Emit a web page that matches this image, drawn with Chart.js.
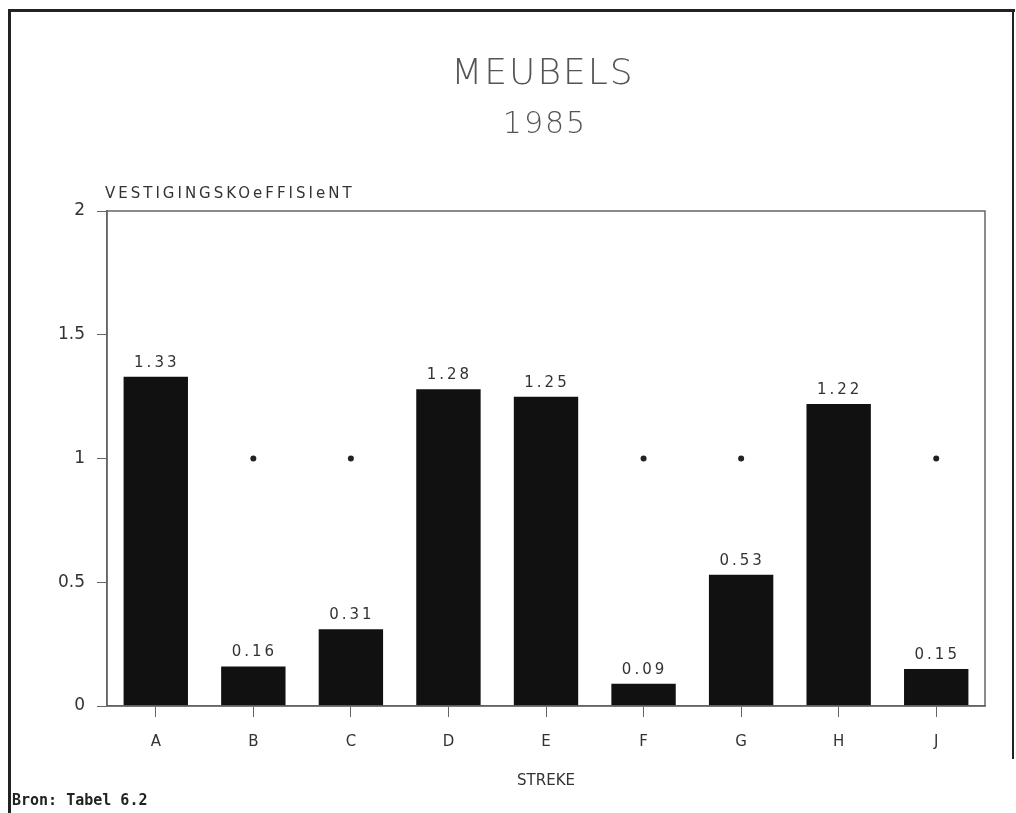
<!DOCTYPE html>
<html>
<head>
<meta charset="utf-8">
<script src="https://cdn.jsdelivr.net/npm/chart.js@4"></script>
<style>
  html, body { margin: 0; padding: 0; background: #fff; }
  #wrap { position: relative; width: 1016px; height: 813px; overflow: hidden; }
  canvas { position: absolute; left: 0; top: 0; }
  .frame { position: absolute; background: #222; }
  #bron { position: absolute; left: 12px; top: 791px; font: bold 15px "DejaVu Sans Mono", monospace; color: #222; }
</style>
</head>
<body>
<div id="wrap">
  <canvas id="chart" width="1016" height="813"></canvas>
  <div class="frame" style="left:8px; top:9px; width:1007px; height:3px;"></div>
  <div class="frame" style="left:8px; top:9px; width:3px; height:804px;"></div>
  <div class="frame" style="left:1012px; top:9px; width:2px; height:750px;"></div>
  <div id="bron">Bron: Tabel 6.2</div>
</div>
<script>
const regions = ['A', 'B', 'C', 'D', 'E', 'F', 'G', 'H', 'J'];
const coefficients = [1.33, 0.16, 0.31, 1.28, 1.25, 0.09, 0.53, 1.22, 0.15];
const referenceLevel = [1, 1, 1, 1, 1, 1, 1, 1, 1];
const yTicks = [0, 0.5, 1, 1.5, 2];

const textColor = '#333';
const lineColor = '#666';

// titles, box, axis caption and bar value labels
const decorations = {
    id: 'decorations',
    afterDraw(chart) {
        const { ctx, chartArea } = chart;
        ctx.save();
        ctx.strokeStyle = lineColor;
        ctx.lineWidth = 1.5;
        ctx.strokeRect(chartArea.left, chartArea.top, chartArea.right - chartArea.left, chartArea.bottom - chartArea.top);

        ctx.fillStyle = '#555';
        ctx.textAlign = 'center';
        ctx.textBaseline = 'middle';
        ctx.letterSpacing = '2px';
        ctx.font = '300 36px "DejaVu Sans"';
        ctx.fillText('MEUBELS', 543, 75);
        ctx.font = '300 30px "DejaVu Sans"';
        ctx.fillText('1985', 545, 125);

        ctx.fillStyle = textColor;
        ctx.letterSpacing = '3px';
        ctx.font = '15px "DejaVu Sans"';
        ctx.textAlign = 'left';
        ctx.fillText('VESTIGINGSKOeFFISIeNT', 105, 194);

        ctx.textAlign = 'center';
        ctx.textBaseline = 'alphabetic';
        ctx.letterSpacing = '3px';
        ctx.font = '15px "DejaVu Sans"';
        const meta = chart.getDatasetMeta(1);
        meta.data.forEach((bar, i) => {
            ctx.fillText(coefficients[i].toFixed(2), bar.x + 1, bar.y - 10);
        });
        ctx.restore();
    }
};

const ctx = document.getElementById('chart').getContext('2d');
new Chart(ctx, {
    data: {
        labels: regions,
        datasets: [
            {
                type: 'line',
                data: referenceLevel,
                showLine: false,
                pointRadius: 3,
                pointBackgroundColor: '#222',
                pointBorderWidth: 0,
                order: 2
            },
            {
                type: 'bar',
                data: coefficients,
                backgroundColor: '#111',
                barPercentage: 0.66,
                categoryPercentage: 1,
                order: 1
            }
        ]
    },
    options: {
        responsive: false,
        animation: false,
        layout: { padding: { left: 0, right: 31, top: 211, bottom: 0 } },
        plugins: {
            legend: { display: false },
            tooltip: { enabled: false }
        },
        scales: {
            x: {
                grid: { drawOnChartArea: false, drawTicks: true, tickLength: 11, tickColor: lineColor, offset: false },
                border: { color: lineColor, width: 1.5 },
                ticks: { color: textColor, font: { family: 'DejaVu Sans', size: 15 }, padding: 16 },
                title: { display: true, text: 'STREKE', color: textColor, font: { family: 'DejaVu Sans', size: 15 }, padding: { top: 14, bottom: 23 } },
                afterFit: scale => { scale.height = 107; }
            },
            y: {
                min: 0,
                max: 2,
                afterBuildTicks: scale => { scale.ticks = yTicks.map(v => ({ value: v })); },
                grid: { drawOnChartArea: false, drawTicks: true, tickLength: 10, tickColor: lineColor },
                border: { color: lineColor, width: 1.5 },
                ticks: {
                    color: textColor,
                    font: { family: 'DejaVu Sans', size: 17 },
                    padding: 12,
                    callback: v => String(v)
                },
                afterFit: scale => { scale.width = 107; }
            }
        }
    },
    plugins: [decorations]
});
</script>
</body>
</html>
